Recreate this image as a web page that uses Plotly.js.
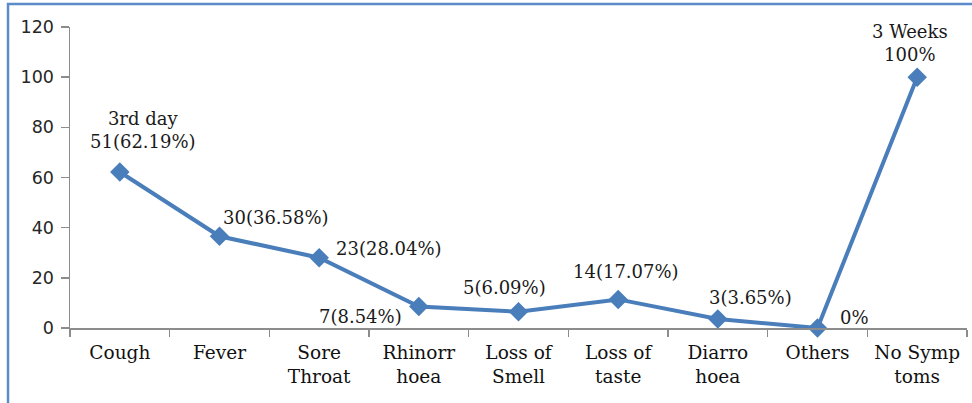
<!DOCTYPE html>
<html>
<head>
<meta charset="utf-8">
<script src="https://cdn.plot.ly/plotly-3.0.1.min.js"></script>
<style>
html,body{margin:0;padding:0;background:#fff;}
#chart{width:972px;height:403px;}
</style>
</head>
<body>
<div id="chart"></div>
<script>
// Data
const categories = ["Cough","Fever","Sore<br>Throat","Rhinorr<br>hoea","Loss of<br>Smell","Loss of<br>taste","Diarro<br>hoea","Others","No Symp<br>toms"];
const values = [62.19, 36.58, 28.04, 8.54, 6.5, 11.4, 3.6, 0, 100];
const pointLabels = ["3rd day<br>51(62.19%)","30(36.58%)","23(28.04%)","7(8.54%)","5(6.09%)","14(17.07%)","3(3.65%)","0%","3 Weeks<br>100%"];
const yTicks = [0, 20, 40, 60, 80, 100, 120];

// Label offsets (pixels) relative to each point
const labelDx = [23, 56, 70, -58, -14, 8, 33, 37, -7];
const labelDy = [42, 19, 9, -10, 24, 28, 21, 11, 34];

const SERIF = 'DejaVu Serif';

const annotations = categories.map((c, i) => ({
  x: c, y: values[i], xref: 'x', yref: 'y',
  text: pointLabels[i], showarrow: false,
  xshift: labelDx[i], yshift: labelDy[i],
  font: {family: SERIF, size: 18, color: '#1a1a1a'},
  align: 'center'
}));

const trace = {
  x: categories, y: values, type: 'scatter', mode: 'lines+markers',
  line: {color: '#4a7ebb', width: 4},
  marker: {symbol: 'diamond', size: 15, color: '#4a7ebb'},
  cliponaxis: false, hoverinfo: 'skip'
};

const layout = {
  width: 972, height: 403,
  margin: {l: 70, r: 5, t: 27, b: 75, pad: 0},
  paper_bgcolor: '#fff', plot_bgcolor: '#fff',
  showlegend: false,
  xaxis: {
    type: 'category', range: [-0.5, 8.5],
    showline: true, linecolor: '#8c8c8c', linewidth: 1.5,
    ticks: 'outside', ticklen: 7, tickcolor: '#8c8c8c', tickwidth: 1.5,
    tickson: 'boundaries', showgrid: false, zeroline: false,
    ticklabelstandoff: 7,
    tickfont: {family: SERIF, size: 18.5, color: '#111'}
  },
  yaxis: {
    range: [0, 120], tickvals: yTicks, ticktext: yTicks.map(String),
    showline: true, linecolor: '#8c8c8c', linewidth: 1.5,
    ticks: 'outside', ticklen: 8, tickcolor: '#8c8c8c', tickwidth: 1.5,
    showgrid: false, zeroline: false, ticklabelstandoff: 3,
    tickfont: {family: 'DejaVu Sans', size: 17.5, color: '#262626'}
  },
  annotations: annotations,
  shapes: [{
    type: 'rect', xref: 'paper', yref: 'paper',
    x0: -0.0691, x1: 1.03, y0: -0.3, y1: 1.0764,
    line: {color: '#5b8bc8', width: 2.5}, fillcolor: 'rgba(0,0,0,0)'
  }]
};

Plotly.newPlot('chart', [trace], layout, {displayModeBar: false, staticPlot: true});
</script>
</body>
</html>
